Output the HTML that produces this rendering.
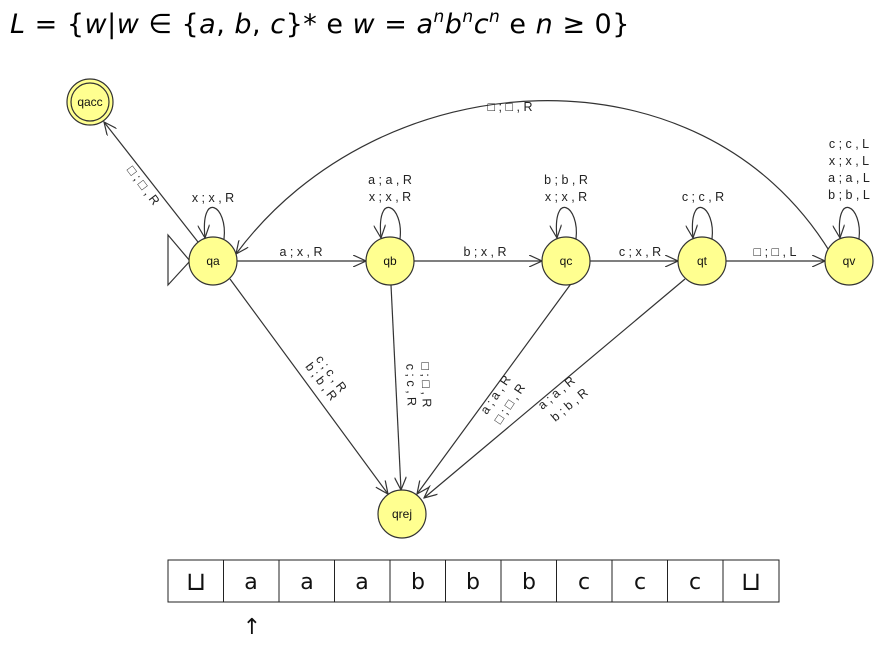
<!DOCTYPE html>
<html><head><meta charset="utf-8"><style>
body{margin:0;background:#fff;width:882px;height:642px;overflow:hidden}
svg{font-family:"Liberation Sans",sans-serif}
</style></head><body>
<svg width="882" height="642" viewBox="0 0 882 642" xmlns="http://www.w3.org/2000/svg">
<defs><marker id="a" markerWidth="14" markerHeight="12" refX="13" refY="6" orient="auto" markerUnits="userSpaceOnUse"><path d="M0,0 L13,6 L0,12" fill="none" stroke="#333" stroke-width="1.2"/></marker></defs>
<text x="10" y="33" font-family="DejaVu Sans, sans-serif" font-size="27" font-style="italic" letter-spacing="0.5">L <tspan font-style="normal">= {</tspan>w<tspan font-style="normal">|</tspan>w <tspan font-style="normal">∈ {</tspan>a<tspan font-style="normal">,</tspan> b<tspan font-style="normal">,</tspan> c<tspan font-style="normal">}* e </tspan>w <tspan font-style="normal">= </tspan>a<tspan font-size="17" dy="-11">n</tspan><tspan dy="11">b</tspan><tspan font-size="17" dy="-11">n</tspan><tspan dy="11">c</tspan><tspan font-size="17" dy="-11">n</tspan><tspan dy="11" font-style="normal"> e </tspan>n <tspan font-style="normal">≥ 0}</tspan></text>
<g stroke="#333" stroke-width="1.2" fill="none">
<line x1="237" y1="261" x2="366" y2="261" marker-end="url(#a)"/>
<line x1="414" y1="261" x2="542" y2="261" marker-end="url(#a)"/>
<line x1="590" y1="261" x2="678" y2="261" marker-end="url(#a)"/>
<line x1="726" y1="261" x2="825" y2="261" marker-end="url(#a)"/>
<line x1="198" y1="242" x2="104" y2="122" marker-end="url(#a)"/>
<line x1="230" y1="279" x2="388" y2="494" marker-end="url(#a)"/>
<line x1="391" y1="285" x2="401" y2="490" marker-end="url(#a)"/>
<line x1="573" y1="281" x2="417" y2="494" marker-end="url(#a)"/>
<line x1="685" y1="279" x2="424" y2="498" marker-end="url(#a)"/>
<path d="M830,252 C700,40 380,60 236,254" marker-end="url(#a)"/>
<path d="M224,239 C228,205 200,190 205,238" marker-end="url(#a)"/>
<path d="M400,239 C404,205 376,190 381,238" marker-end="url(#a)"/>
<path d="M576,239 C580,205 552,190 557,238" marker-end="url(#a)"/>
<path d="M712,239 C716,205 688,190 693,238" marker-end="url(#a)"/>
<path d="M859,239 C863,205 835,190 840,238" marker-end="url(#a)"/>
<path d="M168,235 L190,261 L168,285 Z"/>
</g>
<g fill="#ffff90" stroke="#333" stroke-width="1.2">
<circle cx="90" cy="102" r="23"/><circle cx="90" cy="102" r="19"/>
<circle cx="213" cy="261" r="24"/><circle cx="390" cy="261" r="24"/>
<circle cx="566" cy="261" r="24"/><circle cx="702" cy="261" r="24"/>
<circle cx="849" cy="261" r="24"/><circle cx="402" cy="514" r="24"/>
</g>
<g font-size="12" text-anchor="middle" fill="#111">
<text x="90" y="106">qacc</text><text x="213" y="265">qa</text><text x="390" y="265">qb</text>
<text x="566" y="265">qc</text><text x="702" y="265">qt</text><text x="849" y="265">qv</text><text x="402" y="518">qrej</text>
</g>
<g font-size="12.5" fill="#222" text-anchor="middle">
<text x="213" y="202">x ; x , R</text>
<text x="390" y="184">a ; a , R</text><text x="390" y="201">x ; x , R</text>
<text x="566" y="184">b ; b , R</text><text x="566" y="201">x ; x , R</text>
<text x="703" y="201">c ; c , R</text>
<text x="849" y="148">c ; c , L</text><text x="849" y="165">x ; x , L</text><text x="849" y="182">a ; a , L</text><text x="849" y="199">b ; b , L</text>
<text x="301" y="256">a ; x , R</text><text x="485" y="256">b ; x , R</text><text x="640" y="256">c ; x , R</text><text x="775" y="256">□ ; □ , L</text>
<text x="510" y="111">□ ; □ , R</text>
<text transform="translate(140,188) rotate(53)">□ ; □ , R</text>
<text transform="translate(328,376) rotate(53)">c ; c , R</text>
<text transform="translate(318,384) rotate(53)">b ; b , R</text>
<text transform="translate(422,385) rotate(88)">□ ; □ , R</text>
<text transform="translate(407,385) rotate(88)">c ; c , R</text>
<text transform="translate(499,397) rotate(-56)">a ; a , R</text>
<text transform="translate(513,406) rotate(-56)">□ ; □ , R</text>
<text transform="translate(559,396) rotate(-40)">a ; a , R</text>
<text transform="translate(572,408) rotate(-40)">b ; b , R</text>
</g>
<g stroke="#222" stroke-width="1" fill="none">
<rect x="168" y="560" width="611" height="42"/>
<line x1="223.5" y1="560" x2="223.5" y2="602"/><line x1="279" y1="560" x2="279" y2="602"/>
<line x1="334.5" y1="560" x2="334.5" y2="602"/><line x1="390" y1="560" x2="390" y2="602"/>
<line x1="445.5" y1="560" x2="445.5" y2="602"/><line x1="501" y1="560" x2="501" y2="602"/>
<line x1="556.5" y1="560" x2="556.5" y2="602"/><line x1="612" y1="560" x2="612" y2="602"/>
<line x1="667.5" y1="560" x2="667.5" y2="602"/><line x1="723" y1="560" x2="723" y2="602"/>
</g>
<g font-size="22" text-anchor="middle" fill="#111" font-family="DejaVu Sans, sans-serif">
<text x="196" y="590" font-size="26">⊔</text><text x="251" y="589">a</text><text x="307" y="589">a</text><text x="362" y="589">a</text>
<text x="418" y="589">b</text><text x="473" y="589">b</text><text x="529" y="589">b</text><text x="584" y="589">c</text>
<text x="640" y="589">c</text><text x="695" y="589">c</text><text x="751" y="590" font-size="26">⊔</text>
<text x="252" y="634">↑</text>
</g>
</svg>
</body></html>
